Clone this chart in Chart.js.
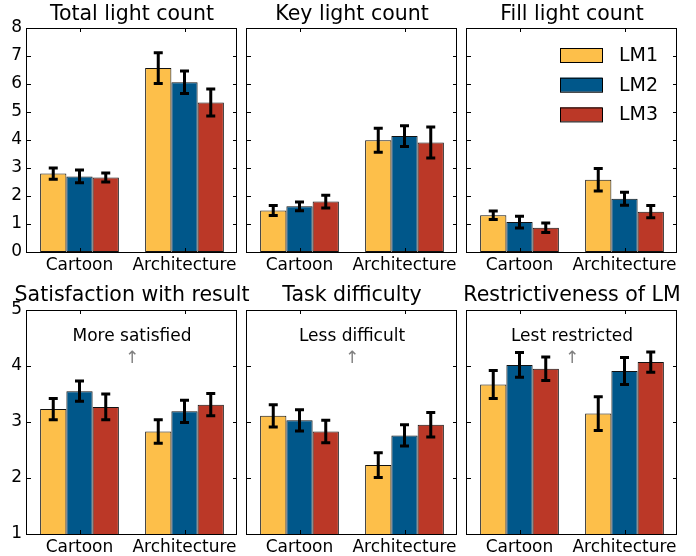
<!DOCTYPE html>
<html>
<head>
<meta charset="utf-8">
<script src="https://cdn.jsdelivr.net/npm/chart.js@4/dist/chart.umd.min.js"></script>
<style>
html, body { margin: 0; padding: 0; background: #fff; overflow: hidden; }
#wrap { position: relative; width: 696px; height: 556px; overflow: hidden; }
#wrap canvas { position: absolute; }
</style>
</head>
<body>
<div id="wrap"></div>
<script>
const categories = ['Cartoon', 'Architecture'];
const series = ['LM1', 'LM2', 'LM3'];
const colors = ['#fdbf4a', '#00578a', '#bb3827'];

// one row per series (LM1, LM2, LM3), one column per category
const totalMean = [[2.80, 6.57], [2.70, 6.06], [2.66, 5.34]];
const totalErr  = [[0.20, 0.55], [0.23, 0.40], [0.16, 0.48]];
const keyMean   = [[1.48, 3.99], [1.63, 4.14], [1.80, 3.91]];
const keyErr    = [[0.18, 0.43], [0.16, 0.37], [0.23, 0.55]];
const fillMean  = [[1.31, 2.58], [1.07, 1.90], [0.87, 1.44]];
const fillErr   = [[0.15, 0.40], [0.21, 0.23], [0.17, 0.22]];
const satMean   = [[3.23, 2.83], [3.55, 3.19], [3.27, 3.31]];
const satErr    = [[0.19, 0.21], [0.18, 0.20], [0.23, 0.20]];
const diffMean  = [[3.11, 2.23], [3.03, 2.76], [2.83, 2.95]];
const diffErr   = [[0.20, 0.22], [0.19, 0.19], [0.20, 0.22]];
const restrMean = [[3.67, 3.15], [4.02, 3.91], [3.95, 4.07]];
const restrErr  = [[0.25, 0.30], [0.22, 0.24], [0.21, 0.18]];

const countTicks = [0, 8];   // min, max of the count panels
const ratingTicks = [1, 5];  // min, max of the rating panels

const panels = [
  { title: 'Total light count', mean: totalMean, err: totalErr, range: countTicks, yLabels: true },
  { title: 'Key light count', mean: keyMean, err: keyErr, range: countTicks },
  { title: 'Fill light count', mean: fillMean, err: fillErr, range: countTicks, legend: true },
  { title: 'Satisfaction with result', mean: satMean, err: satErr, range: ratingTicks, yLabels: true, note: 'More satisfied' },
  { title: 'Task difficulty', mean: diffMean, err: diffErr, range: ratingTicks, note: 'Less difficult' },
  { title: 'Restrictiveness of LM', mean: restrMean, err: restrErr, range: ratingTicks, note: 'Lest restricted' }
];

Chart.defaults.font.family = "'DejaVu Sans', sans-serif";
Chart.defaults.color = '#000';

const FONT = "'DejaVu Sans', sans-serif";

// frame, inward ticks, error bars, notes and the legend
const decor = {
  id: 'decor',
  afterDatasetsDraw(chart, args, opts) {
    const { ctx, chartArea: a, scales: { x, y } } = chart;
    ctx.save();

    ctx.strokeStyle = '#000';
    ctx.lineWidth = 3;
    chart.data.datasets.forEach((ds, i) => {
      chart.getDatasetMeta(i).data.forEach((bar, j) => {
        const top = y.getPixelForValue(ds.data[j] + ds.errors[j]);
        const bot = y.getPixelForValue(ds.data[j] - ds.errors[j]);
        ctx.beginPath();
        ctx.moveTo(bar.x, top); ctx.lineTo(bar.x, bot);
        ctx.moveTo(bar.x - 4.5, top); ctx.lineTo(bar.x + 4.5, top);
        ctx.moveTo(bar.x - 4.5, bot); ctx.lineTo(bar.x + 4.5, bot);
        ctx.stroke();
      });
    });

    ctx.lineWidth = 1;
    ctx.strokeRect(a.left - 0.5, a.top + 0.5, a.right - a.left, a.bottom - a.top);
    ctx.beginPath();
    y.ticks.forEach(t => {
      const py = Math.round(y.getPixelForValue(t.value)) + 0.5;
      ctx.moveTo(a.left, py); ctx.lineTo(a.left + 4, py);
      ctx.moveTo(a.right, py); ctx.lineTo(a.right - 4, py);
    });
    x.ticks.forEach((t, i) => {
      const px = Math.round(x.getPixelForTick(i)) + 0.5;
      ctx.moveTo(px, a.top); ctx.lineTo(px, a.top + 4);
      ctx.moveTo(px, a.bottom); ctx.lineTo(px, a.bottom - 4);
    });
    ctx.stroke();

    if (opts.note) {
      const cx = (a.left + a.right) / 2;
      ctx.textAlign = 'center';
      ctx.textBaseline = 'alphabetic';
      ctx.font = '17px ' + FONT;
      ctx.fillStyle = '#000';
      ctx.fillText(opts.note, cx, a.top + 31);
      ctx.fillStyle = '#808080';
      ctx.fillText('\u2191', cx, a.top + 53);
    }

    if (opts.legend) {
      ctx.font = '19px ' + FONT;
      ctx.textAlign = 'left';
      ctx.textBaseline = 'middle';
      chart.data.datasets.forEach((ds, i) => {
        const cy = a.top + 27 + i * 29.7;
        ctx.fillStyle = ds.backgroundColor;
        ctx.fillRect(a.right - 117, cy - 7, 42, 14);
        ctx.strokeStyle = '#000';
        ctx.strokeRect(a.right - 117 + 0.5, cy - 7 + 0.5, 42, 14);
        ctx.fillStyle = '#000';
        ctx.fillText(ds.label, a.right - 58, cy + 1);
      });
    }
    ctx.restore();
  }
};

const PW = 210, M = 27;
const lefts = [27, 247, 467];
const rows = [
  { top: 0, height: 280, titlePad: { top: 2, bottom: 1.4 }, axisH: 28 },
  { top: 280, height: 276, titlePad: { top: 3.8, bottom: 1.6 }, axisH: 22 }
];

const wrap = document.getElementById('wrap');
panels.forEach((p, k) => {
  const row = rows[Math.floor(k / 3)];
  const cv = document.createElement('canvas');
  cv.width = PW + 2 * M;
  cv.height = row.height;
  cv.style.left = (lefts[k % 3] - M) + 'px';
  cv.style.top = row.top + 'px';
  wrap.appendChild(cv);

  new Chart(cv.getContext('2d'), {
    type: 'bar',
    data: {
      labels: categories,
      datasets: series.map((name, i) => ({
        label: name,
        data: p.mean[i],
        errors: p.err[i],
        backgroundColor: colors[i],
        borderColor: '#111',
        borderWidth: 1,
        borderSkipped: false,
        categoryPercentage: 0.75,
        barPercentage: 1.0
      }))
    },
    options: {
      responsive: false,
      animation: false,
      events: [],
      layout: { padding: 0 },
      scales: {
        x: {
          grid: { display: false, drawTicks: false },
          border: { display: false },
          ticks: { font: { size: 17 }, padding: 3, color: '#000', maxRotation: 0, autoSkip: false },
          afterFit: s => { s.height = row.axisH; }
        },
        y: {
          min: p.range[0],
          max: p.range[1],
          grid: { display: false, drawTicks: false },
          border: { display: false },
          ticks: { display: !!p.yLabels, stepSize: 1, font: { size: 17 }, padding: 5, color: '#000' },
          afterFit: s => { s.width = M; }
        },
        yr: {
          position: 'right',
          min: p.range[0],
          max: p.range[1],
          grid: { display: false, drawTicks: false },
          border: { display: false },
          ticks: { display: false },
          afterFit: s => { s.width = M; }
        }
      },
      plugins: {
        legend: { display: false },
        tooltip: { enabled: false },
        title: {
          display: true,
          text: p.title,
          font: { size: 20.5, weight: 'normal' },
          color: '#000',
          padding: row.titlePad
        },
        decor: { note: p.note, legend: p.legend }
      }
    },
    plugins: [decor]
  });
});
</script>
</body>
</html>
